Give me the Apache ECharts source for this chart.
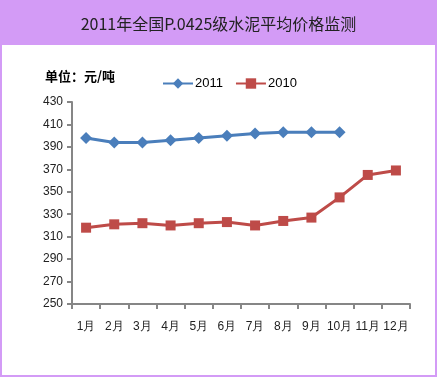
<!DOCTYPE html>
<html>
<head>
<meta charset="utf-8">
<script src="https://cdn.jsdelivr.net/npm/echarts@6/dist/echarts.min.js"></script>
<style>
  html, body { margin: 0; padding: 0; background: #fff; }
  #main { width: 437px; height: 377px; }
</style>
</head>
<body>
<div id="main"></div>
<script>
// 月份与两年的价格（元/吨）
const months = ['1月', '2月', '3月', '4月', '5月', '6月', '7月', '8月', '9月', '10月', '11月', '12月'];
const price2011 = [398, 394, 394, 396, 398, 400, 402, 403, 403, 403];
const price2010 = [318, 321, 322, 320, 322, 323, 320, 324, 327, 345, 365, 369];
const yTicks = [250, 270, 290, 310, 330, 350, 370, 390, 410, 430];

const purple = '#d39bf6';
const axisGray = '#868686';
const numFont = "'Liberation Sans Narrow', 'Liberation Sans', Arial, sans-serif";

const chart = echarts.init(document.getElementById('main'), null, { renderer: 'canvas' });

chart.setOption({
  backgroundColor: '#fff',
  animation: false,
  graphic: [
    { type: 'rect', shape: { x: 0, y: 0, width: 437, height: 45 }, style: { fill: purple }, z: -1 },
    { type: 'rect', shape: { x: 1, y: 44, width: 435, height: 332 }, style: { fill: 'none', stroke: purple, lineWidth: 2 }, z: -1 },
    {
      type: 'text', left: 45, top: 70,
      style: { text: '单位：元/吨', font: "bold 13px 'Noto Sans CJK SC', sans-serif", fill: '#000' }
    }
  ],
  title: {
    text: '2011年全国P.0425级水泥平均价格监测',
    left: 'center', top: 11,
    textStyle: { fontSize: 16, fontWeight: 'normal', color: '#222', fontFamily: "'Noto Sans CJK SC', sans-serif" }
  },
  legend: {
    top: 72, left: 157,
    itemGap: 12, itemWidth: 30, itemHeight: 13,
    textStyle: { fontSize: 13, color: '#000', fontFamily: numFont, padding: [0, 0, 0, -3] },
    data: ['2011', '2010']
  },
  grid: { left: 72, right: 27, top: 102, bottom: 73 },
  xAxis: {
    type: 'category',
    data: months,
    boundaryGap: true,
    axisLine: { lineStyle: { color: axisGray, width: 2 } },
    axisTick: { show: true, length: 5, lineStyle: { color: axisGray, width: 2 }, alignWithLabel: false },
    axisLabel: { margin: 17, interval: 0, fontSize: 12, color: '#222', fontFamily: numFont }
  },
  yAxis: {
    type: 'value',
    min: yTicks[0], max: yTicks[yTicks.length - 1], interval: 20,
    splitLine: { show: false },
    axisLine: { show: true, lineStyle: { color: axisGray, width: 2 } },
    axisTick: { show: true, length: 5, lineStyle: { color: axisGray, width: 2 } },
    axisLabel: { margin: 9, fontSize: 12, color: '#222', fontFamily: numFont }
  },
  series: [
    {
      name: '2011', type: 'line', data: price2011,
      symbol: 'diamond', symbolSize: 12,
      lineStyle: { width: 3, color: '#4a7ebb' },
      itemStyle: { color: '#4a7ebb' }
    },
    {
      name: '2010', type: 'line', data: price2010,
      symbol: 'rect', symbolSize: 10,
      lineStyle: { width: 3, color: '#be4b48' },
      itemStyle: { color: '#be4b48' }
    }
  ]
});
</script>
</body>
</html>
